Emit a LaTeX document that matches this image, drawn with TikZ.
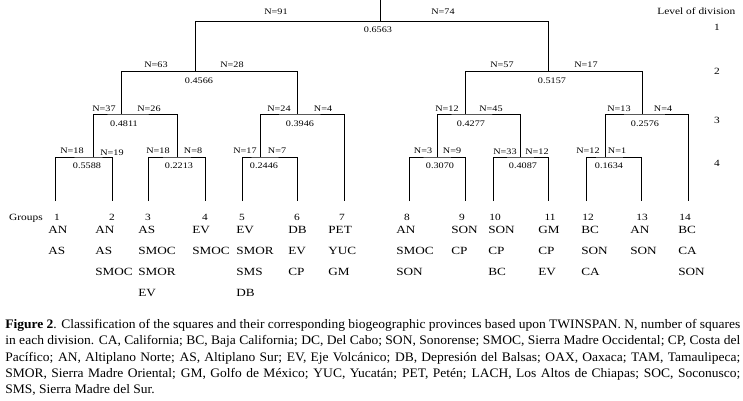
\documentclass[tikz,border=0pt]{standalone}
\usepackage{fontspec}
\setmainfont{Liberation Serif}
\newfontfamily\widefont[FakeStretch=1.2]{Liberation Serif}
\newfontfamily\capfont[FakeStretch=1.04]{Liberation Serif}

\begin{document}
\begin{tikzpicture}
[x=1pt, y=-1pt, line width=.7pt, every node/.style={inner sep=0pt},
 nlab/.style={font=\widefont\fontsize{8.5}{10}\selectfont, anchor=base},
 grp/.style={font=\widefont\fontsize{9.5}{11}\selectfont, anchor=base},
 prov/.style={font=\widefont\fontsize{11}{21}\selectfont, anchor=north west, align=left}]
\useasboundingbox (0,0) rectangle (743,400);

% division points
\coordinate (top) at (380,0);
\coordinate (d1) at (380,21.7);
\coordinate (d2a) at (195,71.7);
\coordinate (d2b) at (548,71.7);
\coordinate (d3a) at (121,114);
\coordinate (d3b) at (297,114);
\coordinate (d3c) at (465,114);
\coordinate (d3d) at (642,114);
\coordinate (d4a) at (93,157);
\coordinate (d4b) at (177,157);
\coordinate (d4c) at (260,157);
\coordinate (d4d) at (437,157);
\coordinate (d4e) at (520,157);
\coordinate (d4f) at (605,157);

% group ends
\coordinate (g1) at (55,201);
\coordinate (g2) at (112,201);
\coordinate (g3) at (148,201);
\coordinate (g4) at (205,201);
\coordinate (g5) at (242,201);
\coordinate (g6) at (297,201);
\coordinate (g7) at (344,201);
\coordinate (g8) at (409,201);
\coordinate (g9) at (465,201);
\coordinate (g10) at (493,201);
\coordinate (g11) at (548,201);
\coordinate (g12) at (586,201);
\coordinate (g13) at (641,201);
\coordinate (g14) at (688,201);

\draw (top) -- (d1);
\draw (d2a) |- (d1) -| (d2b);
\draw (d3a) |- (d2a) -| (d3b);
\draw (d3c) |- (d2b) -| (d3d);
\draw (d4a) |- (d3a) -| (d4b);
\draw (d4c) |- (d3b) -| (g7);
\draw (d4d) |- (d3c) -| (d4e);
\draw (d4f) |- (d3d) -| (g14);
\draw (g1) |- (d4a) -| (g2);
\draw (g3) |- (d4b) -| (g4);
\draw (g5) |- (d4c) -| (g6);
\draw (g8) |- (d4d) -| (g9);
\draw (g10) |- (d4e) -| (g11);
\draw (g12) |- (d4f) -| (g13);

% sizes and eigenvalues
\node (N91) at (276,14) [nlab] {N=91};
\node (N74) at (443,14) [nlab] {N=74};
\node (E1) at (378,32) [nlab] {0.6563};
\node (N63) at (156,67) [nlab] {N=63};
\node (N28) at (232,67) [nlab] {N=28};
\node (N57) at (502,67) [nlab] {N=57};
\node (N17) at (586,67) [nlab] {N=17};
\node (E2a) at (199,83) [nlab] {0.4566};
\node (E2b) at (552,83) [nlab] {0.5157};
\node (N37) at (104,111) [nlab] {N=37};
\node (N26) at (149,111) [nlab] {N=26};
\node (N24) at (279,111) [nlab] {N=24};
\node (N4a) at (323,111) [nlab] {N=4};
\node (N12a) at (447,111) [nlab] {N=12};
\node (N45) at (491,111) [nlab] {N=45};
\node (N13) at (619,111) [nlab] {N=13};
\node (N4b) at (663,111) [nlab] {N=4};
\node (E3a) at (124,126) [nlab] {0.4811};
\node (E3b) at (300,126) [nlab] {0.3946};
\node (E3c) at (471,126) [nlab] {0.4277};
\node (E3d) at (645,126) [nlab] {0.2576};
\node (N18a) at (72,153) [nlab] {N=18};
\node (N19) at (112,155) [nlab] {N=19};
\node (N18b) at (158,153) [nlab] {N=18};
\node (N8) at (193,153) [nlab] {N=8};
\node (N17b) at (245,153) [nlab] {N=17};
\node (N7) at (277,153) [nlab] {N=7};
\node (N3) at (423,153) [nlab] {N=3};
\node (N9) at (452,153) [nlab] {N=9};
\node (N33) at (505,154) [nlab] {N=33};
\node (N12b) at (537,154) [nlab] {N=12};
\node (N12c) at (588,153) [nlab] {N=12};
\node (N1) at (617,153) [nlab] {N=1};
\node (E4a) at (87,168) [nlab] {0.5588};
\node (E4b) at (179,168) [nlab] {0.2213};
\node (E4c) at (264,168) [nlab] {0.2446};
\node (E4d) at (440,168) [nlab] {0.3070};
\node (E4e) at (523,168) [nlab] {0.4087};
\node (E4f) at (609,168) [nlab] {0.1634};

% levels
\node (lev) at (657,14) [grp, anchor=base west] {Level of division};
\node (lev1) at (717,30) [grp] {1};
\node (lev2) at (717,74) [grp] {2};
\node (lev3) at (717,123) [grp] {3};
\node (lev4) at (717,166) [grp] {4};

% groups
\node (groups) at (26,220) [grp] {Groups};
\node (n1) at (57,220) [grp] {1};
\node (n2) at (112,220) [grp] {2};
\node (n3) at (148,220) [grp] {3};
\node (n4) at (205,220) [grp] {4};
\node (n5) at (242,220) [grp] {5};
\node (n6) at (297,220) [grp] {6};
\node (n7) at (342,220) [grp] {7};
\node (n8) at (407,220) [grp] {8};
\node (n9) at (462,220) [grp] {9};
\node (n10) at (495,220) [grp] {10};
\node (n11) at (550,220) [grp] {11};
\node (n12) at (588,220) [grp] {12};
\node (n13) at (642,220) [grp] {13};
\node (n14) at (685,220) [grp] {14};

\node (p1) at (48,225.7) [prov] {AN\\AS};
\node (p2) at (95,225.7) [prov] {AN\\AS\\SMOC};
\node (p3) at (138,225.7) [prov] {AS\\SMOC\\SMOR\\EV};
\node (p4) at (192,225.7) [prov] {EV\\SMOC};
\node (p5) at (236,225.7) [prov] {EV\\SMOR\\SMS\\DB};
\node (p6) at (288,225.7) [prov] {DB\\EV\\CP};
\node (p7) at (328,225.7) [prov] {PET\\YUC\\GM};
\node (p8) at (396,225.7) [prov] {AN\\SMOC\\SON};
\node (p9) at (451,225.7) [prov] {SON\\CP};
\node (p10) at (488,225.7) [prov] {SON\\CP\\BC};
\node (p11) at (538,225.7) [prov] {GM\\CP\\EV};
\node (p12) at (581,225.7) [prov] {BC\\SON\\CA};
\node (p13) at (630,225.7) [prov] {AN\\SON};
\node (p14) at (678,225.7) [prov] {BC\\CA\\SON};

% caption
\node (caption) at (5,319) [anchor=north west, text width=735pt, align=justify,
  font=\capfont\fontsize{13}{16.3}\selectfont]
{\textbf{Figure 2}. Classification of the squares and their corresponding biogeographic provinces based upon TWINSPAN. N, number of squares\linebreak
in each division. CA, California; BC, Baja California; DC, Del Cabo; SON, Sonorense; SMOC, Sierra Madre Occidental; CP, Costa del\linebreak
Pacífico; AN, Altiplano Norte; AS, Altiplano Sur; EV, Eje Volcánico; DB, Depresión del Balsas; OAX, Oaxaca; TAM, Tamaulipeca;\linebreak
SMOR, Sierra Madre Oriental; GM, Golfo de México; YUC, Yucatán; PET, Petén; LACH, Los Altos de Chiapas; SOC, Soconusco;\linebreak
SMS, Sierra Madre del Sur.};
\end{tikzpicture}
\end{document}
